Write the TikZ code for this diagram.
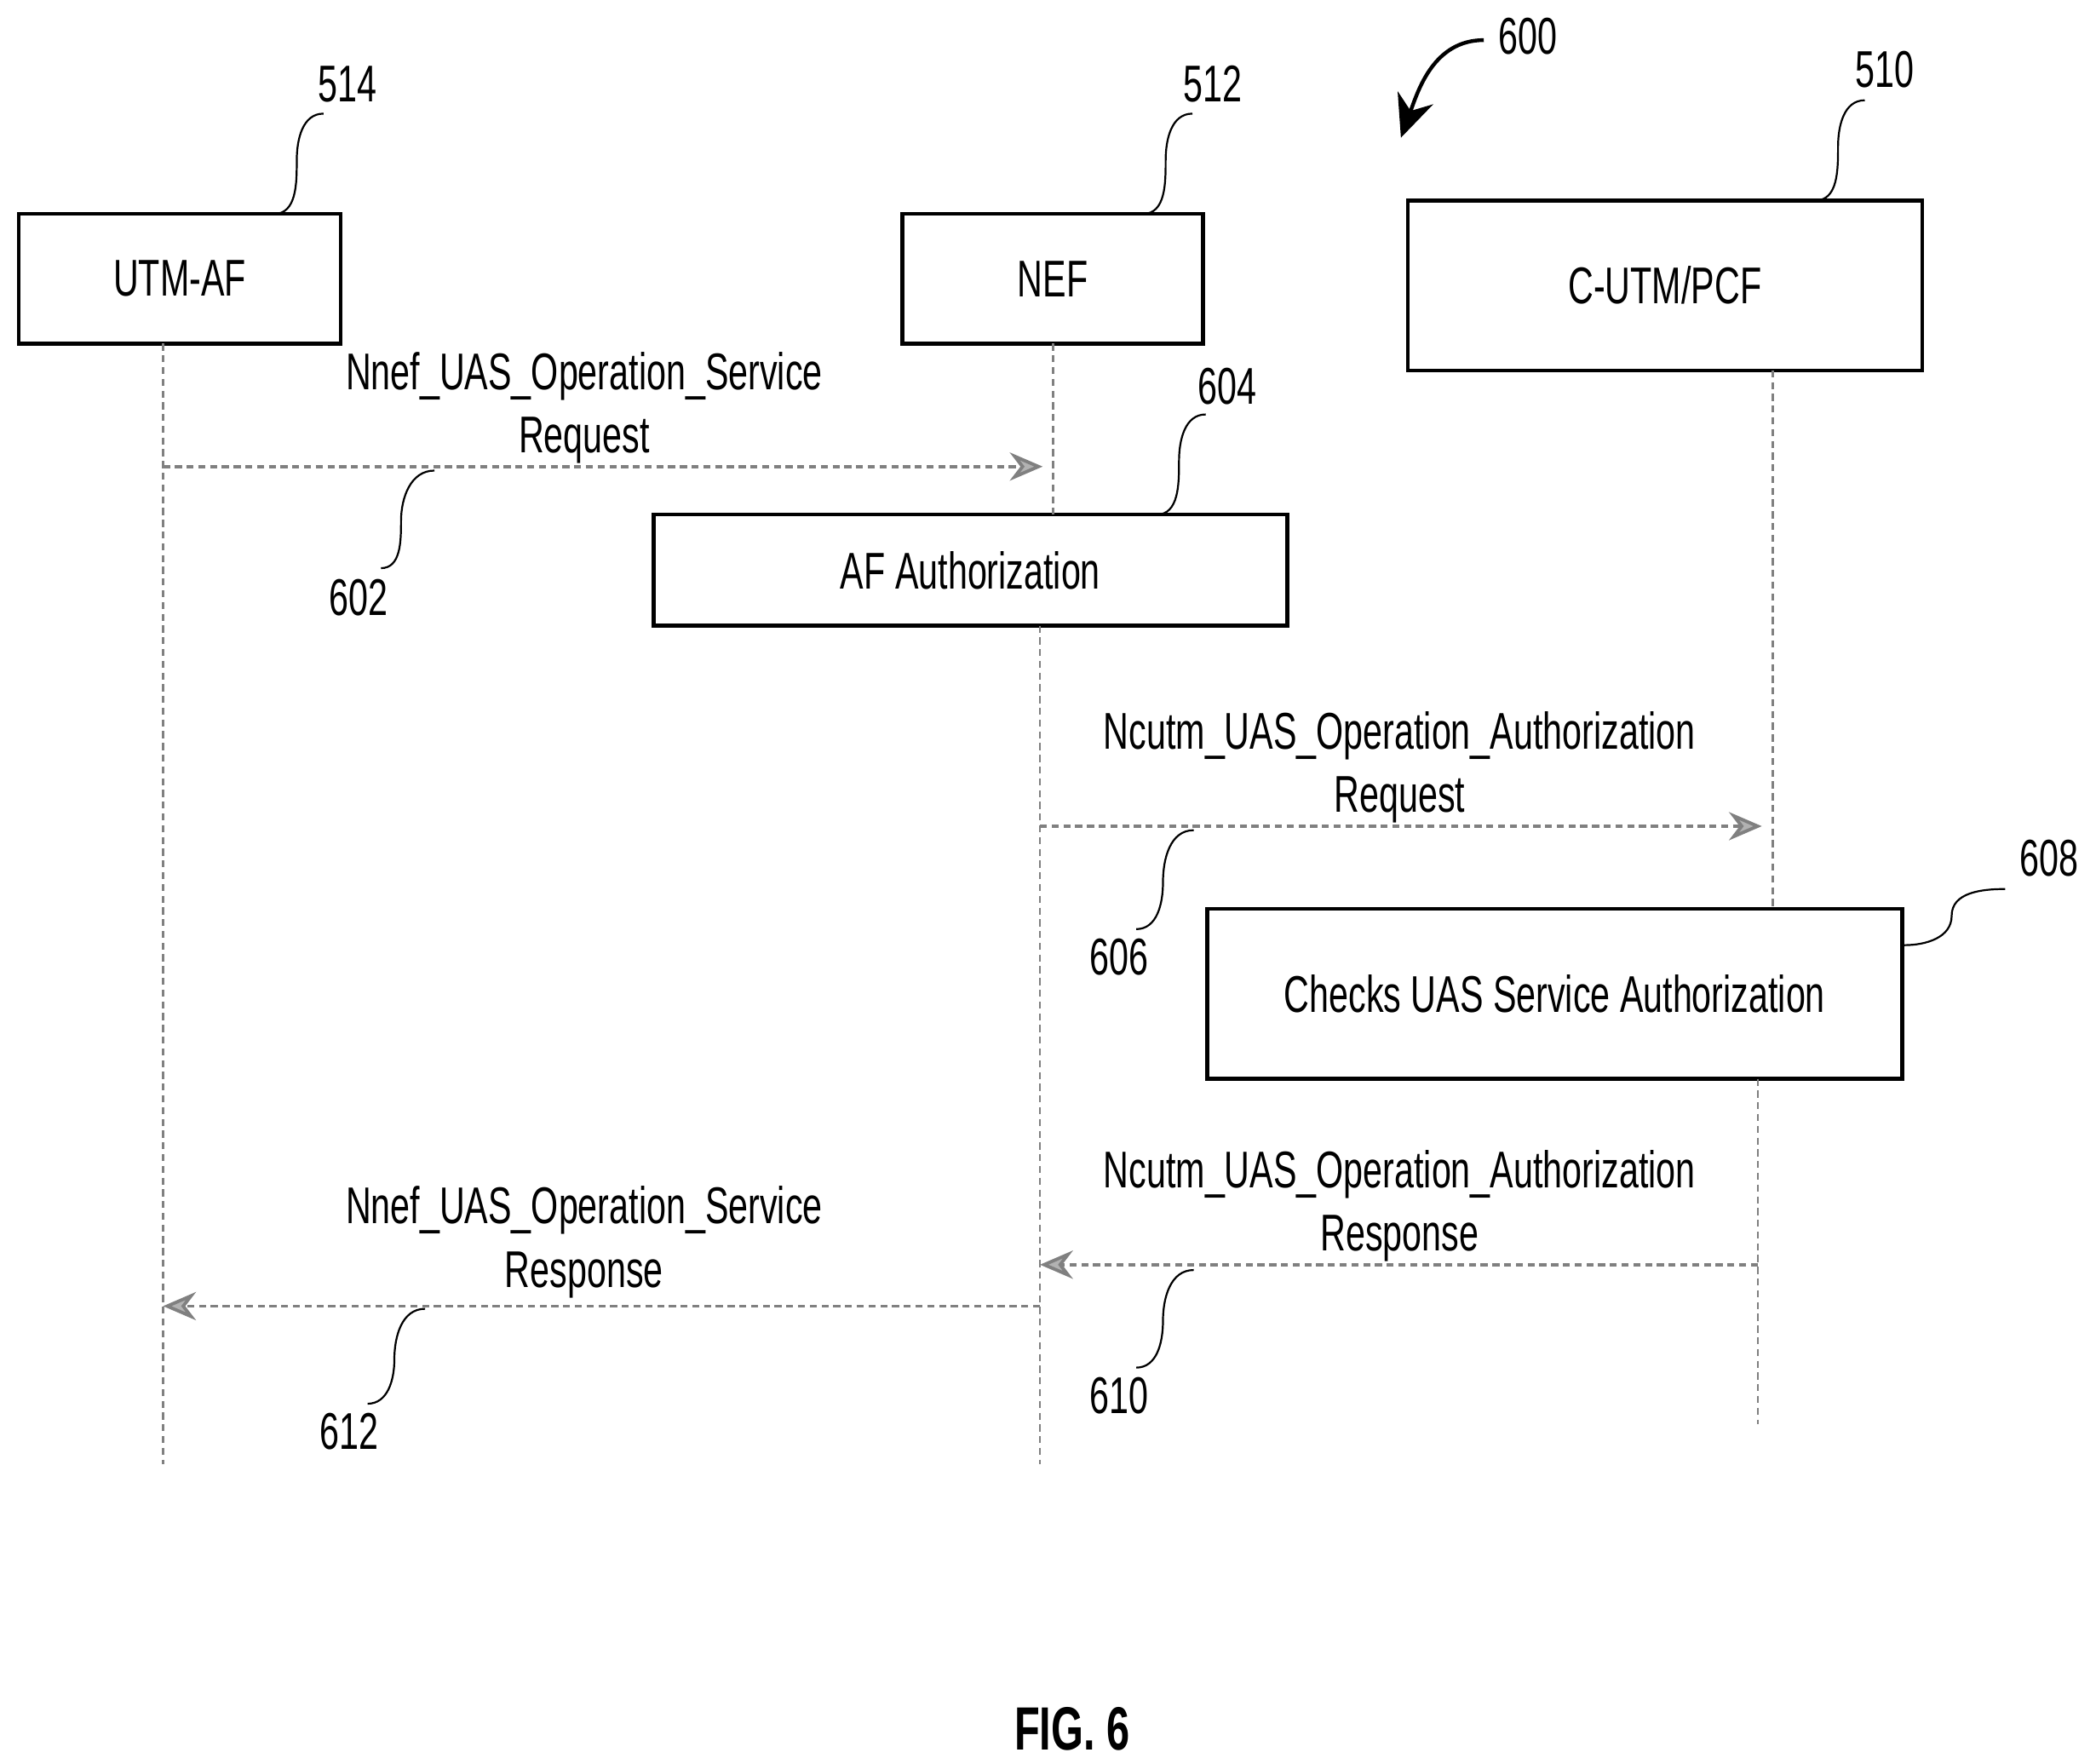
\documentclass[tikz,border=0pt]{standalone}
\usepackage{fontspec}
\setmainfont[FakeStretch=0.68]{Liberation Sans}
\usetikzlibrary{arrows.meta,calc}
\begin{document}
\begin{tikzpicture}[
actor/.style={draw,thick,rectangle,inner sep=0pt,font=\fontsize{11}{12}\selectfont},
life/.style={gray,dash pattern=on 1.5pt off 1pt,line width=0.5pt},
msg/.style={gray,dash pattern=on 1.5pt off 1pt,line width=0.7pt,-{Stealth[length=7pt,width=6pt,fill=gray!60]}},
mlabel/.style={align=center,font=\fontsize{11}{13.5}\selectfont},
reflab/.style={font=\fontsize{11}{12}\selectfont},
leader/.style={thin}]
\useasboundingbox (0,0) rectangle (15.68,-13.19);
% boxes
\node[actor,minimum width=2.41cm,minimum height=0.97cm] (utm) at (1.345,-2.085) {UTM-AF};
\node[actor,minimum width=2.25cm,minimum height=0.97cm] (nef) at (7.875,-2.085) {NEF};
\node[actor,minimum width=3.85cm,minimum height=1.27cm] (pcf) at (12.455,-2.135) {C-UTM/PCF};
\node[actor,minimum width=4.74cm,minimum height=0.83cm] (afa) at (7.26,-4.265) {AF Authorization};
\node[actor,minimum width=5.2cm,minimum height=1.27cm] (chk) at (11.63,-7.435) {Checks UAS Service Authorization};
% lifelines
\coordinate (utmend) at (1.22,-10.95);
\coordinate (nefend) at (7.78,-10.95);
\coordinate (pcfend) at (13.15,-10.65);
\draw[life] (1.22,-2.57) -- (utmend);
\draw[life] (7.88,-2.57) -- (7.88,-3.85);
\draw[life] (7.78,-4.68) -- (nefend);
\draw[life] (13.26,-2.77) -- (13.26,-6.8);
\draw[life] (13.15,-8.07) -- (pcfend);
% messages
\coordinate (m1a) at (1.22,-3.49); \coordinate (m1b) at (7.8,-3.49);
\coordinate (m2a) at (7.78,-6.18); \coordinate (m2b) at (13.18,-6.18);
\coordinate (m3a) at (13.15,-9.46); \coordinate (m3b) at (7.78,-9.46);
\coordinate (m4a) at (7.78,-9.77); \coordinate (m4b) at (1.22,-9.77);
\draw[msg] (m1a) -- (m1b);
\draw[msg] (m2a) -- (m2b);
\draw[msg] (m3a) -- (m3b);
\draw[msg] (m4a) -- (m4b);
\node[mlabel] (l602) at (4.37,-3.05) {Nnef\_UAS\_Operation\_Service\\Request};
\node[mlabel] (l606) at (10.47,-5.74) {Ncutm\_UAS\_Operation\_Authorization\\Request};
\node[mlabel] (l610) at (10.47,-9.02) {Ncutm\_UAS\_Operation\_Authorization\\Response};
\node[mlabel] (l612) at (4.37,-9.29) {Nnef\_UAS\_Operation\_Service\\Response};
% reference numerals
\node[reflab] (n514) at (2.6,-0.63) {514};
\node[reflab] (n512) at (9.07,-0.63) {512};
\node[reflab] (n510) at (14.1,-0.52) {510};
\node[reflab] (n604) at (9.18,-2.89) {604};
\node[reflab] (n602) at (2.68,-4.47) {602};
\node[reflab] (n606) at (8.37,-7.16) {606};
\node[reflab] (n610) at (8.37,-10.44) {610};
\node[reflab] (n612) at (2.61,-10.71) {612};
\node[reflab] (n608) at (15.33,-6.42) {608};
\node[reflab] (n600) at (11.43,-0.27) {600};
\draw[leader] (2.05,-1.6) to[out=0,in=-90] (2.22,-1.2) to[out=90,in=180] (2.42,-0.85);
\draw[leader] (8.55,-1.6) to[out=0,in=-90] (8.72,-1.2) to[out=90,in=180] (8.92,-0.85);
\draw[leader] (13.58,-1.5) to[out=0,in=-90] (13.75,-1.1) to[out=90,in=180] (13.95,-0.75);
\draw[leader] (8.65,-3.85) to[out=0,in=-90] (8.82,-3.45) to[out=90,in=180] (9.02,-3.1);
\draw[leader] (3.25,-3.52) to[out=180,in=90] (3.0,-3.9) to[out=-90,in=0] (2.85,-4.25);
\draw[leader] (8.93,-6.21) to[out=180,in=90] (8.7,-6.6) to[out=-90,in=0] (8.5,-6.95);
\draw[leader] (8.93,-9.5) to[out=180,in=90] (8.7,-9.88) to[out=-90,in=0] (8.5,-10.23);
\draw[leader] (3.18,-9.79) to[out=180,in=90] (2.95,-10.17) to[out=-90,in=0] (2.75,-10.5);
\draw[leader] (chk.east |- 0,-7.07) to[out=0,in=-90] (14.6,-6.85) to[out=90,in=180] (15.0,-6.65);
\draw[thick,-{Stealth[length=9pt,width=8pt]}] (11.1,-0.3) to[out=180,in=70] (10.48,-1.03);
\node[font=\bfseries\fontsize{13}{14}\selectfont] (fig) at (8.02,-12.93) {FIG. 6};
\end{tikzpicture}
\end{document}
